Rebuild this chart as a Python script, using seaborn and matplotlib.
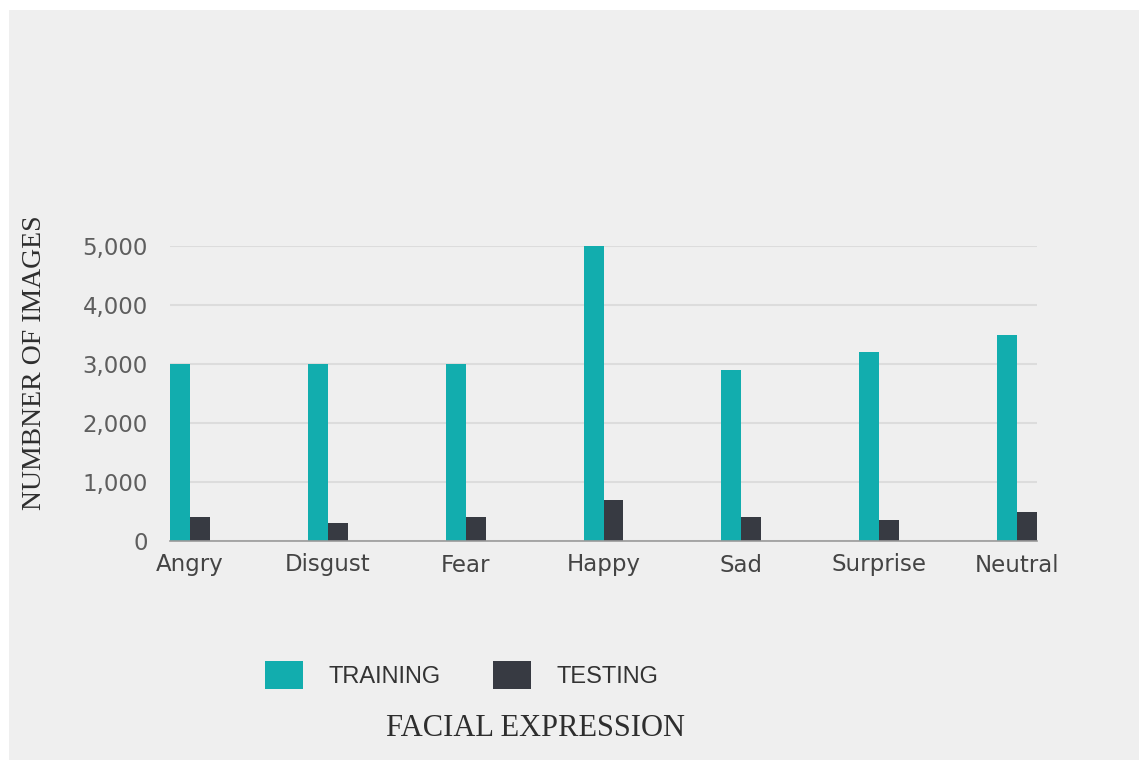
import pandas as pd
import matplotlib.pyplot as plt
import seaborn as sns
from matplotlib.patches import Rectangle
from matplotlib.ticker import FuncFormatter

# Values
expressions = ["Angry", "Disgust", "Fear", "Happy", "Sad", "Surprise", "Neutral"]
training = [3000, 3000, 3000, 5000, 2900, 3200, 3500]
testing = [400, 300, 400, 700, 400, 350, 500]
series_names = ["TRAINING", "TESTING"]
colors = ["#12adae", "#373a42"]

df = pd.DataFrame({
    "expression": expressions * 2,
    "count": training + testing,
    "set": [series_names[0]] * len(expressions) + [series_names[1]] * len(expressions),
})

sns.set_style("whitegrid")
plt.rcParams["font.family"] = ["DejaVu Sans"]

fig = plt.figure(figsize=(11.39, 7.6), dpi=100, facecolor="white")
# gray panel with a thin white margin on top and left
fig.patches.append(Rectangle((9 / 1139, 0), 1, 750 / 760, transform=fig.transFigure,
                             facecolor="#efefef", edgecolor="none", zorder=-10))

ax = fig.add_axes([170 / 1139, 1 - 541 / 760, 867 / 1139, 295 / 760])
ax.set_facecolor("none")

sns.barplot(data=df, x="expression", y="count", hue="set", order=expressions,
            hue_order=series_names, palette=colors, width=0.29, saturation=1,
            edgecolor="none", ax=ax)

ax.set_xlim(-0.145, 6.145)
ax.set_ylim(0, 5000)
ax.set_yticks([0, 1000, 2000, 3000, 4000, 5000])
ax.yaxis.set_major_formatter(FuncFormatter(lambda v, p: f"{int(v):,}"))

ax.grid(axis="y", color="#dcdcdc", linewidth=1.5)
ax.grid(axis="x", visible=False)
ax.set_axisbelow(True)
for side in ["top", "right", "left"]:
    ax.spines[side].set_visible(False)
ax.spines["bottom"].set_color("#9a9a9a")
ax.spines["bottom"].set_linewidth(1.2)

ax.tick_params(axis="y", length=0, pad=16, labelsize=16.5, labelcolor="#5e5e5e")
ax.tick_params(axis="x", length=0, pad=9, labelsize=16.5, labelcolor="#444444")

ax.set_ylabel("NUMBNER OF IMAGES", fontsize=20, family="Liberation Serif", color="#2e2e2e")
ax.yaxis.set_label_coords(-0.142, 0.603)
ax.set_xlabel("FACIAL EXPRESSION", fontsize=22, family="Liberation Serif", color="#2e2e2e")
ax.xaxis.set_label_coords(0.422, -0.585)

sns.move_legend(ax, "center left", bbox_to_anchor=(265 / 1139, 1 - 675 / 760),
                bbox_transform=fig.transFigure, ncol=2, frameon=False, title=None,
                borderaxespad=0, borderpad=0, handlelength=1.6, handleheight=1.5,
                handletextpad=1.1, columnspacing=2.2,
                prop={"family": "Liberation Sans", "size": 17})
for t in ax.get_legend().get_texts():
    t.set_color("#333333")

fig.savefig("out.png", dpi=100)
